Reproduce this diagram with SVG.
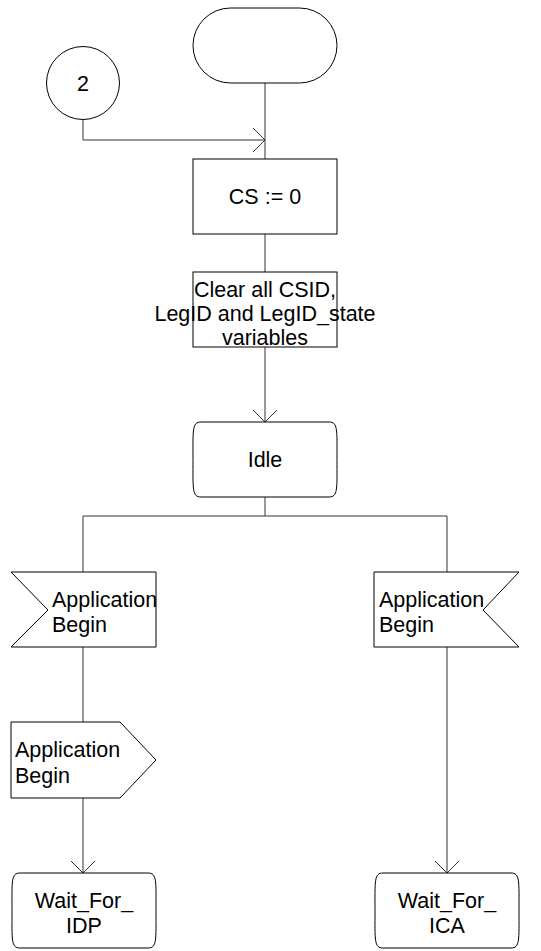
<svg xmlns="http://www.w3.org/2000/svg" width="541" height="951" viewBox="0 0 541 951">
<defs>
<style>
.s{fill:#fff;stroke:#000;stroke-width:1}
.c{fill:none;stroke:#333;stroke-width:1}
text{font-family:"Liberation Sans",Arial,sans-serif;font-size:21.5px;fill:#000}
.m{text-anchor:middle}
</style>
<marker id="a" viewBox="0 0 12 24" refX="12" refY="12" markerWidth="12" markerHeight="24" markerUnits="userSpaceOnUse" orient="auto">
<path d="M0,0 L12,12 L0,24" fill="none" stroke="#333" stroke-width="1"/>
</marker>
</defs>
<g id="connectors">
<path class="c" d="M83,120 V140 H265" marker-end="url(#a)"/>
<path class="c" d="M265,83 V159"/>
<path class="c" d="M265,234 V272"/>
<path class="c" d="M265,347 V422" marker-end="url(#a)"/>
<path class="c" d="M265,497 V516 M83,516 H447 M83,516 V572 M447,516 V572"/>
<path class="c" d="M83,647 V722"/>
<path class="c" d="M83,798 V873" marker-end="url(#a)"/>
<path class="c" d="M447,647 V873" marker-end="url(#a)"/>
</g>
<g id="start"><rect class="s" x="193" y="8" width="144" height="75" rx="37.5" ry="37.5"/></g>
<g id="connector2"><circle class="s" cx="83" cy="83" r="36.5"/><text class="m" x="83" y="91">2</text></g>
<g id="cs"><rect class="s" x="193" y="159" width="144" height="75"/><text class="m" x="265" y="204">CS := 0</text></g>
<g id="clear"><rect class="s" x="193" y="272" width="144" height="75"/>
<text class="m" x="265" y="297">Clear all CSID,</text>
<text class="m" x="265" y="321">LegID and LegID_state</text>
<text class="m" x="265" y="345">variables</text></g>
<g id="idle"><path class="s" d="M201,422 H329 C338,422 337,430 337,459.5 C337,489 338,497 329,497 H201 C192,497 193,489 193,459.5 C193,430 192,422 201,422 Z"/><text class="m" x="265" y="467">Idle</text></g>
<g id="inputL"><path class="s" d="M11,572 H156 V647 H11 L48,610 Z"/>
<text x="52" y="607">Application</text><text x="52" y="632">Begin</text></g>
<g id="inputR"><path class="s" d="M374,572 H519 L483,610 L519,647 H374 Z"/>
<text x="379" y="607">Application</text><text x="379" y="632">Begin</text></g>
<g id="output"><path class="s" d="M11,722 H120 L156,760 L120,798 H11 Z"/>
<text x="15" y="757">Application</text><text x="15" y="783">Begin</text></g>
<g id="waitIDP"><path class="s" d="M20,873 H148 C157,873 156,881 156,910.5 C156,940 157,948 148,948 H20 C11,948 12,940 12,910.5 C12,881 11,873 20,873 Z"/>
<text class="m" x="84" y="908">Wait_For_</text><text class="m" x="84" y="933">IDP</text></g>
<g id="waitICA"><path class="s" d="M383,873 H511 C520,873 519,881 519,910.5 C519,940 520,948 511,948 H383 C374,948 375,940 375,910.5 C375,881 374,873 383,873 Z"/>
<text class="m" x="447" y="908">Wait_For_</text><text class="m" x="447" y="933">ICA</text></g>
</svg>
